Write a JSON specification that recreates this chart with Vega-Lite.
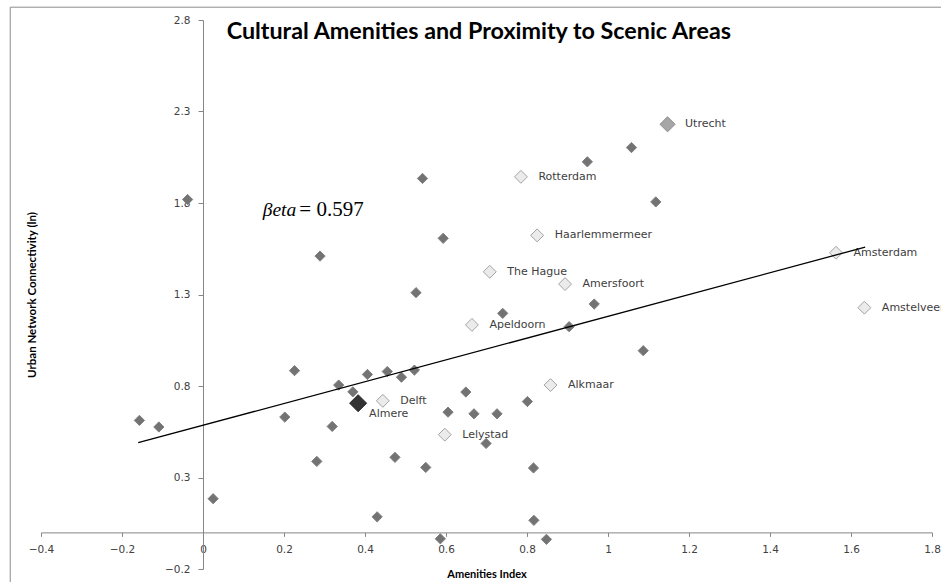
{
  "$schema": "https://vega.github.io/schema/vega-lite/v6.json",
  "width": 891,
  "height": 549,
  "autosize": {"type": "none"},
  "padding": {"left": 41, "top": 20, "right": 9, "bottom": 13},
  "background": "white",
  "config": {"view": {"stroke": null}, "axis": {"grid": false}},
  "datasets": {
    "points": [
      {"city": "", "x": -0.038, "y": 1.819, "category": "Other"},
      {"city": "", "x": 0.542, "y": 1.934, "category": "Other"},
      {"city": "", "x": 0.593, "y": 1.607, "category": "Other"},
      {"city": "", "x": 0.289, "y": 1.51, "category": "Other"},
      {"city": "", "x": 0.526, "y": 1.31, "category": "Other"},
      {"city": "", "x": 1.058, "y": 2.103, "category": "Other"},
      {"city": "", "x": 0.949, "y": 2.025, "category": "Other"},
      {"city": "", "x": 1.118, "y": 1.806, "category": "Other"},
      {"city": "", "x": 0.966, "y": 1.248, "category": "Other"},
      {"city": "", "x": 0.74, "y": 1.197, "category": "Other"},
      {"city": "", "x": 0.904, "y": 1.124, "category": "Other"},
      {"city": "", "x": 1.087, "y": 0.993, "category": "Other"},
      {"city": "", "x": 0.649, "y": 0.767, "category": "Other"},
      {"city": "", "x": 0.801, "y": 0.715, "category": "Other"},
      {"city": "", "x": 0.669, "y": 0.648, "category": "Other"},
      {"city": "", "x": 0.726, "y": 0.648, "category": "Other"},
      {"city": "", "x": 0.699, "y": 0.486, "category": "Other"},
      {"city": "", "x": 0.816, "y": 0.352, "category": "Other"},
      {"city": "", "x": 0.817, "y": 0.066, "category": "Other"},
      {"city": "", "x": 0.848, "y": -0.038, "category": "Other"},
      {"city": "", "x": -0.157, "y": 0.612, "category": "Other"},
      {"city": "", "x": -0.109, "y": 0.576, "category": "Other"},
      {"city": "", "x": 0.226, "y": 0.884, "category": "Other"},
      {"city": "", "x": 0.202, "y": 0.63, "category": "Other"},
      {"city": "", "x": 0.335, "y": 0.805, "category": "Other"},
      {"city": "", "x": 0.37, "y": 0.768, "category": "Other"},
      {"city": "", "x": 0.406, "y": 0.863, "category": "Other"},
      {"city": "", "x": 0.455, "y": 0.879, "category": "Other"},
      {"city": "", "x": 0.49, "y": 0.848, "category": "Other"},
      {"city": "", "x": 0.522, "y": 0.887, "category": "Other"},
      {"city": "", "x": 0.319, "y": 0.579, "category": "Other"},
      {"city": "", "x": 0.281, "y": 0.388, "category": "Other"},
      {"city": "", "x": 0.474, "y": 0.41, "category": "Other"},
      {"city": "", "x": 0.55, "y": 0.355, "category": "Other"},
      {"city": "", "x": 0.025, "y": 0.184, "category": "Other"},
      {"city": "", "x": 0.43, "y": 0.085, "category": "Other"},
      {"city": "", "x": 0.586, "y": -0.035, "category": "Other"},
      {"city": "", "x": 0.605, "y": 0.657, "category": "Other"},
      {"city": "Utrecht", "x": 1.147, "y": 2.23, "category": "Utrecht"},
      {"city": "Rotterdam", "x": 0.785, "y": 1.943, "category": "Peer"},
      {"city": "Haarlemmermeer", "x": 0.825, "y": 1.623, "category": "Peer"},
      {"city": "The Hague", "x": 0.708, "y": 1.424, "category": "Peer"},
      {"city": "Amersfoort", "x": 0.894, "y": 1.357, "category": "Peer"},
      {"city": "Amsterdam", "x": 1.563, "y": 1.528, "category": "Peer"},
      {"city": "Apeldoorn", "x": 0.664, "y": 1.134, "category": "Peer"},
      {"city": "Amstelveen", "x": 1.633, "y": 1.228, "category": "Peer"},
      {"city": "Alkmaar", "x": 0.858, "y": 0.805, "category": "Peer"},
      {"city": "Lelystad", "x": 0.597, "y": 0.534, "category": "Peer"},
      {"city": "Delft", "x": 0.444, "y": 0.719, "category": "Peer"},
      {"city": "Almere", "x": 0.383, "y": 0.706, "category": "Almere"}
    ],
    "trend": [
      {"x": -0.16, "y": 0.49},
      {"x": 1.635, "y": 1.559}
    ]
  },
  "layer": [
    {
      "data": {"values": [{}]},
      "mark": {"type": "rect", "fill": null, "stroke": "#8c8c8c", "strokeWidth": 1, "clip": false},
      "encoding": {
        "x": {"datum": -0.476, "type": "quantitative"},
        "x2": {"datum": 2.2},
        "y": {"datum": 2.87, "type": "quantitative"},
        "y2": {"datum": -0.4}
      }
    },
    {
      "data": {"name": "points"},
      "mark": {"type": "point", "shape": "diamond", "filled": true, "strokeWidth": 1, "opacity": 1, "clip": false},
      "encoding": {
        "x": {
          "field": "x", "type": "quantitative",
          "scale": {"domain": [-0.4, 1.8], "nice": false, "zero": false},
          "axis": {
            "values": [-0.4, -0.2, 0, 0.2, 0.4, 0.6, 0.8, 1, 1.2, 1.4, 1.6, 1.8],
            "format": "~g",
            "offset": -36.6,
            "title": "Amenities Index",
            "titleFont": "Lato", "titleFontWeight": "bold", "titleFontSize": 11, "titleColor": "#000000",
            "titleY": 42.5, "titleBaseline": "middle",
            "labelFont": "DejaVu Sans", "labelFontSize": 10.5, "labelColor": "#404040",
            "labelPadding": 8, "labelFlush": false, "labelOverlap": false,
            "domainColor": "#868686", "tickColor": "#868686", "tickSize": 4
          }
        },
        "y": {
          "field": "y", "type": "quantitative",
          "scale": {"domain": [-0.2, 2.8], "nice": false, "zero": false},
          "axis": {
            "values": [-0.2, 0.3, 0.8, 1.3, 1.8, 2.3, 2.8],
            "format": "~g",
            "offset": -162,
            "title": "Urban Network Connectivity (ln)",
            "titleFont": "Lato", "titleFontWeight": "bold", "titleFontSize": 11.5, "titleColor": "#000000",
            "titleX": -171, "titleY": 274.5, "titleAngle": -90, "titleBaseline": "middle", "titleAlign": "center",
            "labelFont": "DejaVu Sans", "labelFontSize": 10.5, "labelColor": "#404040",
            "labelPadding": 8, "labelFlush": false, "labelOverlap": false,
            "domainColor": "#868686", "tickColor": "#868686", "tickSize": 5
          }
        },
        "fill": {
          "field": "category", "type": "nominal",
          "scale": {"domain": ["Other", "Peer", "Utrecht", "Almere"], "range": ["#737373", "#ebebeb", "#a6a6a6", "#333333"]},
          "legend": null
        },
        "stroke": {
          "field": "category", "type": "nominal",
          "scale": {"domain": ["Other", "Peer", "Utrecht", "Almere"], "range": ["#808080", "#a3a3a3", "#8c8c8c", "#262626"]},
          "legend": null
        },
        "size": {
          "field": "category", "type": "nominal",
          "scale": {"domain": ["Other", "Peer", "Utrecht", "Almere"], "range": [105, 290, 290, 290]},
          "legend": null
        },
        "order": {"field": "category", "sort": "descending"}
      }
    },
    {
      "data": {"name": "points"},
      "transform": [{"filter": "datum.category !== 'Other' && datum.city !== 'Almere'"}],
      "mark": {"type": "text", "align": "left", "baseline": "middle", "dx": 17.5, "font": "DejaVu Sans", "fontSize": 11, "color": "#404040", "clip": false},
      "encoding": {
        "x": {"field": "x", "type": "quantitative"},
        "y": {"field": "y", "type": "quantitative"},
        "text": {"field": "city"}
      }
    },
    {
      "data": {"name": "points"},
      "transform": [{"filter": "datum.city === 'Almere'"}],
      "mark": {"type": "text", "align": "left", "baseline": "middle", "dx": 11, "dy": 11, "font": "DejaVu Sans", "fontSize": 11, "color": "#404040"},
      "encoding": {
        "x": {"field": "x", "type": "quantitative"},
        "y": {"field": "y", "type": "quantitative"},
        "text": {"field": "city"}
      }
    },
    {
      "data": {"values": [{}]},
      "mark": {"type": "text", "align": "center", "baseline": "alphabetic", "font": "Lato", "fontWeight": "bold", "fontSize": 23.3, "color": "#000000", "clip": false},
      "encoding": {
        "x": {"datum": 0.681, "type": "quantitative"},
        "y": {"datum": 2.695, "type": "quantitative"},
        "text": {"value": "Cultural Amenities and Proximity to Scenic Areas"}
      }
    },
    {
      "data": {"values": [{}]},
      "mark": {"type": "text", "align": "left", "baseline": "alphabetic", "font": "Liberation Serif", "fontStyle": "italic", "fontSize": 19.5, "color": "#000000"},
      "encoding": {
        "x": {"datum": 0.1474, "type": "quantitative"},
        "y": {"datum": 1.731, "type": "quantitative"},
        "text": {"value": "βeta"}
      }
    },
    {
      "data": {"values": [{}]},
      "mark": {"type": "text", "align": "left", "baseline": "alphabetic", "font": "Liberation Serif", "fontSize": 21, "color": "#000000"},
      "encoding": {
        "x": {"datum": 0.2378, "type": "quantitative"},
        "y": {"datum": 1.731, "type": "quantitative"},
        "text": {"value": "=  0.597"}
      }
    },
    {
      "data": {"name": "trend"},
      "mark": {"type": "line", "color": "#000000", "strokeWidth": 1.3},
      "encoding": {
        "x": {"field": "x", "type": "quantitative"},
        "y": {"field": "y", "type": "quantitative"}
      }
    }
  ]
}
